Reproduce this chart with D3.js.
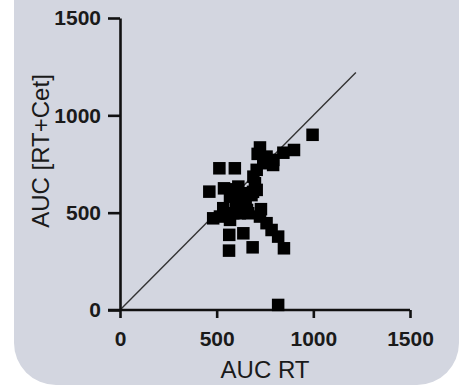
<!DOCTYPE html>
<html>
<head>
<meta charset="utf-8">
<script src="https://cdn.jsdelivr.net/npm/d3@7"></script>
<style>
  html, body { margin: 0; padding: 0; background: #ffffff; }
  svg { display: block; }
  text { font-family: "Liberation Sans", Arial, Helvetica, sans-serif; fill: #1a1a1a; }
</style>
</head>
<body>
<svg id="chart" width="462" height="390"></svg>
<script>
// AUC under radiotherapy alone vs. radiotherapy + cetuximab, one square per patient
const aucRT = [
  996, 900, 845, 724, 712, 758, 793, 741, 792, 707,
  690, 698, 707, 514, 594, 462, 538, 612, 569, 620,
  655, 638, 534, 586, 482, 517, 569, 729, 724, 758,
  784, 818, 848, 565, 638, 564, 686, 818, 620, 663,
  600, 650, 680, 600, 640, 584, 636, 657, 688
];
const aucRTCet = [
  900, 822, 808, 835, 802, 788, 771, 754, 745, 720,
  685, 651, 617, 728, 728, 608, 625, 634, 582, 565,
  600, 531, 523, 497, 471, 480, 463, 518, 480, 446,
  411, 377, 317, 386, 394, 305, 322, 26, 497, 497,
  550, 560, 590, 620, 530, 590, 576, 514, 607
];
const xTicks = [0, 500, 1000, 1500];
const yTicks = [0, 500, 1000, 1500];
const identityEnd = 1220;   // line of identity drawn from 0 to this value

const svg = d3.select("#chart");

// rounded grey panel behind the plot
svg.append("rect")
  .attr("x", 14).attr("y", -60)
  .attr("width", 445).attr("height", 445)
  .attr("rx", 42).attr("ry", 42)
  .attr("fill", "#d3d6e0");

const x = d3.scaleLinear().domain([0, 1500]).range([120, 410]);
const y = d3.scaleLinear().domain([0, 1500]).range([310, 18]);

// identity line
svg.append("line")
  .attr("x1", x(0)).attr("y1", y(0))
  .attr("x2", x(identityEnd)).attr("y2", y(identityEnd))
  .attr("stroke", "#333").attr("stroke-width", 1.4);

// axes
const fmt = d3.format("d");
const xAxis = svg.append("g")
  .attr("transform", `translate(0,${y(0)})`)
  .call(d3.axisBottom(x).tickValues(xTicks).tickFormat(fmt)
    .tickSize(8).tickSizeOuter(0).tickPadding(13));
const yAxis = svg.append("g")
  .attr("transform", `translate(${x(0)},0)`)
  .call(d3.axisLeft(y).tickValues(yTicks).tickFormat(fmt)
    .tickSize(12).tickSizeOuter(0).tickPadding(7));

[xAxis, yAxis].forEach(g => {
  g.select(".domain").attr("stroke", "#111").attr("stroke-width", 2.6);
  g.selectAll(".tick line").attr("stroke", "#111").attr("stroke-width", 2.6);
  g.selectAll(".tick text")
    .attr("fill", "#1a1a1a")
    .style("font-size", "21px")
    .style("font-weight", "bold")
    .style("font-family", "'Liberation Sans', Arial, sans-serif");
});
// extend the x axis line left to meet the zero tick of the y axis
xAxis.select(".domain").attr("d", `M${x(0) - 12},0H${x(1500)}`);

// data points
const pts = aucRT.map((v, i) => ({ x: v, y: aucRTCet[i] }));
const s = 12.5;
svg.append("g").selectAll("rect")
  .data(pts)
  .join("rect")
  .attr("x", d => x(d.x) - s / 2)
  .attr("y", d => y(d.y) - s / 2)
  .attr("width", s).attr("height", s)
  .attr("fill", "#000");

// axis titles
svg.append("text")
  .attr("x", 265).attr("y", 378)
  .attr("text-anchor", "middle")
  .style("font-size", "24px")
  .text("AUC RT");
svg.append("text")
  .attr("transform", "translate(49,151) rotate(-90)")
  .attr("text-anchor", "middle")
  .style("font-size", "24px")
  .text("AUC [RT+Cet]");
</script>
</body>
</html>
